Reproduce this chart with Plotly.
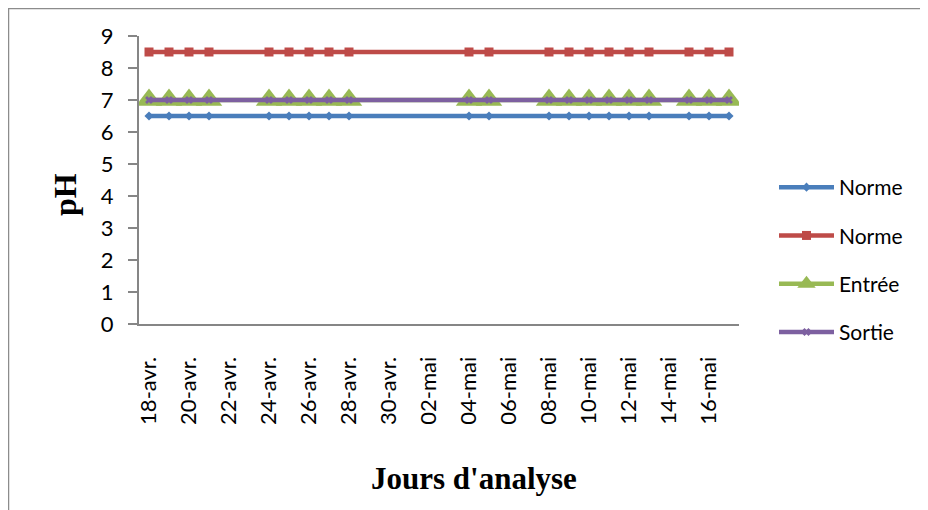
import plotly.graph_objects as go

# ---- data ----
dates = ["2014-04-18", "2014-04-19", "2014-04-20", "2014-04-21",
         "2014-04-24", "2014-04-25", "2014-04-26", "2014-04-27", "2014-04-28",
         "2014-05-04", "2014-05-05",
         "2014-05-08", "2014-05-09", "2014-05-10", "2014-05-11", "2014-05-12", "2014-05-13",
         "2014-05-15", "2014-05-16", "2014-05-17"]
norme_min = [6.5, 6.5, 6.5, 6.5, 6.5, 6.5, 6.5, 6.5, 6.5, 6.5,
             6.5, 6.5, 6.5, 6.5, 6.5, 6.5, 6.5, 6.5, 6.5, 6.5]
norme_max = [8.5, 8.5, 8.5, 8.5, 8.5, 8.5, 8.5, 8.5, 8.5, 8.5,
             8.5, 8.5, 8.5, 8.5, 8.5, 8.5, 8.5, 8.5, 8.5, 8.5]
entree = [7, 7, 7, 7, 7, 7, 7, 7, 7, 7,
          7, 7, 7, 7, 7, 7, 7, 7, 7, 7]
sortie = [7, 7, 7, 7, 7, 7, 7, 7, 7, 7,
          7, 7, 7, 7, 7, 7, 7, 7, 7, 7]

tick_dates = ["2014-04-18", "2014-04-20", "2014-04-22", "2014-04-24", "2014-04-26",
              "2014-04-28", "2014-04-30", "2014-05-02", "2014-05-04", "2014-05-06",
              "2014-05-08", "2014-05-10", "2014-05-12", "2014-05-14", "2014-05-16"]
tick_labels = ["18-avr.", "20-avr.", "22-avr.", "24-avr.", "26-avr.",
               "28-avr.", "30-avr.", "02-mai", "04-mai", "06-mai",
               "08-mai", "10-mai", "12-mai", "14-mai", "16-mai"]
y_ticks = [0, 1, 2, 3, 4, 5, 6, 7, 8, 9]

# ---- layout geometry (page has an 8px body margin) ----
OFF = 8
W, H = 920, 502
L, R, T, B = 131, 189, 28, 186
PW, PH = W - L - R, H - T - B


def px(xs):
    return (xs - OFF - L) / PW


def py(ys):
    return (H - B - (ys - OFF)) / PH


series = [
    ("Norme", norme_min, "#4A7EBB", dict(symbol="diamond", size=7)),
    ("Norme", norme_max, "#BE4B48", dict(symbol="square", size=9)),
    ("Entrée", entree, "#98B954", dict(symbol="triangle-up", size=23)),
    ("Sortie", sortie, "#7D60A0", dict(symbol="x", size=7)),
]

fig = go.Figure()
for i, (name, vals, col, mk) in enumerate(series):
    fig.add_trace(go.Scatter(
        x=dates, y=vals, name=name, mode="lines+markers",
        legendgroup=f"g{i}",
        line=dict(color=col, width=4.5),
        marker=dict(color=col, line=dict(width=0), **mk),
    ))

AX = "#868686"
fig.update_layout(
    width=W, height=H,
    margin=dict(l=L, r=R, t=T, b=B),
    paper_bgcolor="white", plot_bgcolor="white",
    font=dict(family="Lato", size=22, color="black"),
    showlegend=True,
    legend=dict(x=px(774), y=py(167), xanchor="left", yanchor="top",
                font=dict(family="Lato", size=21, color="black"),
                tracegroupgap=18, itemwidth=55, bgcolor="rgba(0,0,0,0)"),
    xaxis=dict(
        type="date",
        range=["2014-04-17 12:00", "2014-05-17 12:00"],
        tickmode="array", tickvals=tick_dates, ticktext=tick_labels,
        tickangle=-90, ticks="", ticklabelstandoff=22,
        showgrid=False, zeroline=False,
        showline=True, linecolor=AX, linewidth=2,
        tickfont=dict(family="Lato", size=22),
    ),
    yaxis=dict(
        range=[0, 9], tickmode="array", tickvals=y_ticks,
        ticks="outside", ticklen=9, tickcolor=AX, tickwidth=2,
        ticklabelstandoff=10,
        showgrid=False, zeroline=False,
        showline=True, linecolor=AX, linewidth=2,
        tickfont=dict(family="Lato", size=22),
    ),
    annotations=[
        dict(text="<b>pH</b>", textangle=-90, x=px(65), y=py(195),
             xref="paper", yref="paper", showarrow=False,
             xanchor="center", yanchor="middle",
             font=dict(family="Liberation Serif", size=32, color="black")),
        dict(text="<b>Jours d'analyse</b>", x=px(474), y=py(478),
             xref="paper", yref="paper", showarrow=False,
             xanchor="center", yanchor="middle",
             font=dict(family="Liberation Serif", size=31, color="black")),
    ],
    shapes=[
        dict(type="line", xref="paper", yref="paper",
             x0=px(8), x1=px(927), y0=py(8.5), y1=py(8.5),
             line=dict(color="#8C8C8C", width=1.5)),
        dict(type="line", xref="paper", yref="paper",
             x0=px(8.5), x1=px(8.5), y0=py(8), y1=py(520),
             line=dict(color="#8C8C8C", width=1.5)),
    ],
)

fig.write_html("out.html")
